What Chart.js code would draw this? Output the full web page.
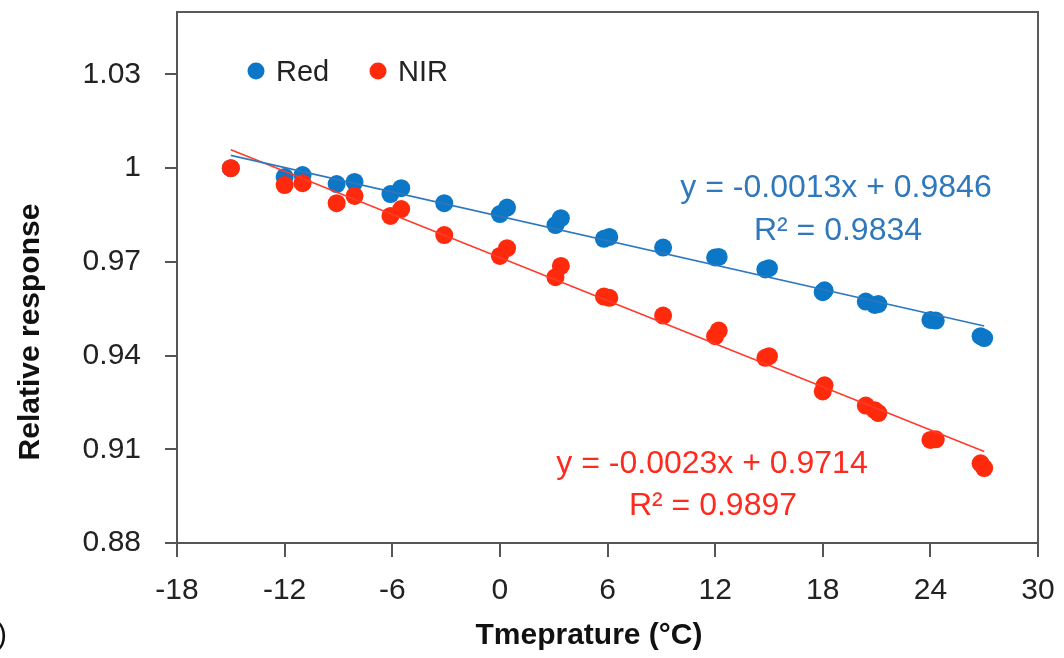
<!DOCTYPE html>
<html>
<head>
<meta charset="utf-8">
<style>
  html, body { margin: 0; padding: 0; background: #ffffff; }
  #wrap { width: 1064px; height: 658px; position: relative; }
</style>
<script src="https://cdn.jsdelivr.net/npm/chart.js@4.4.1/dist/chart.umd.min.js"></script>
</head>
<body>
<div id="wrap"><canvas id="c" width="1064" height="658"></canvas></div>
<script>
// ---- data ----
const temperatures = [-15, -12, -11, -9.1, -8.1, -6.1, -5.5, -3.1, 0, 0.4, 3.1, 3.4, 5.8, 6.1, 9.1,
  12.0, 12.2, 14.8, 15.0, 18.0, 18.1, 20.4, 20.9, 21.1, 24.0, 24.3, 26.8, 27.0];
const redBand = [1.0, 0.9972, 0.9978, 0.9949, 0.9956, 0.9917, 0.9936, 0.9888, 0.9853, 0.9874, 0.9818, 0.9840,
  0.9774, 0.9780, 0.9746, 0.9714, 0.9716, 0.9676, 0.9680, 0.9603, 0.9609, 0.9573, 0.9562, 0.9565,
  0.9514, 0.9512, 0.9462, 0.9456];
const nirBand = [1.0, 0.9946, 0.9952, 0.9888, 0.9911, 0.9847, 0.9869, 0.9786, 0.9719, 0.9744, 0.9651, 0.9687,
  0.9589, 0.9585, 0.9528, 0.9462, 0.9480, 0.9393, 0.9398, 0.9285, 0.9305, 0.9240, 0.9225, 0.9216,
  0.9130, 0.9132, 0.9055, 0.9040];
const trendX = [-15, 27];
const redTrend = [1.0041, 0.9495];
const nirTrend = [1.0059, 0.9093];
const seriesNames = ['Red', 'NIR'];
const redEquation = ['y = -0.0013x + 0.9846', 'R² = 0.9834'];
const nirEquation = ['y = -0.0023x + 0.9714', 'R² = 0.9897'];
const xTicks = [-18, -12, -6, 0, 6, 12, 18, 24, 30];
const yTicks = [0.88, 0.91, 0.94, 0.97, 1.0, 1.03];
const xTitle = 'Tmeprature (°C)';
const yTitle = 'Relative response';

const BLUE = '#0B77C6';
const RED = '#FF2A0C';
const BLUE_TXT = '#2F78BC';
const RED_TXT = '#FF2A1E';
const FONT = "'Liberation Sans', Arial, sans-serif";

const toPts = (xs, ys) => xs.map((x, i) => ({ x: x, y: ys[i] }));

const overlay = {
  id: 'overlay',
  afterDraw(chart) {
    const ctx = chart.ctx;
    const a = chart.chartArea;
    ctx.save();
    // box top & right
    ctx.strokeStyle = '#5a5a5a';
    ctx.lineWidth = 2;
    ctx.beginPath();
    ctx.moveTo(a.left, a.top);
    ctx.lineTo(a.right, a.top);
    ctx.lineTo(a.right, a.bottom);
    ctx.stroke();

    // legend
    ctx.font = '29px ' + FONT;
    ctx.textBaseline = 'middle';
    ctx.textAlign = 'left';
    const legendItems = [
      { name: seriesNames[0], color: BLUE, x: 256 },
      { name: seriesNames[1], color: RED, x: 378 }
    ];
    legendItems.forEach(it => {
      ctx.fillStyle = it.color;
      ctx.beginPath();
      ctx.arc(it.x, 71, 8.5, 0, Math.PI * 2);
      ctx.fill();
      ctx.fillStyle = '#222222';
      ctx.fillText(it.name, it.x + 20, 73);
    });

    // equations
    ctx.font = '32px ' + FONT;
    ctx.textAlign = 'center';
    ctx.fillStyle = BLUE_TXT;
    ctx.fillText(redEquation[0], 836, 188);
    ctx.fillText(redEquation[1], 838, 231);
    ctx.fillStyle = RED_TXT;
    ctx.fillText(nirEquation[0], 712, 464);
    ctx.fillText(nirEquation[1], 713, 506);

    // axis titles
    ctx.fillStyle = '#111111';
    ctx.font = 'bold 30px ' + FONT;
    ctx.textAlign = 'center';
    ctx.fillText(xTitle, 589, 636);
    ctx.save();
    ctx.translate(31, 332);
    ctx.rotate(-Math.PI / 2);
    ctx.fillText(yTitle, 0, 0);
    ctx.restore();

    // clipped panel label
    ctx.font = '30px ' + FONT;
    ctx.textAlign = 'right';
    ctx.fillStyle = '#111111';
    ctx.fillText('b)', 7, 636);
    ctx.restore();
  }
};

new Chart(document.getElementById('c'), {
  type: 'scatter',
  data: {
    datasets: [
      {
        label: seriesNames[0] + ' trend',
        data: toPts(trendX, redTrend),
        showLine: true, borderColor: '#2E78C0', borderWidth: 1.6,
        pointRadius: 0, fill: false, order: 0
      },
      {
        label: seriesNames[1] + ' trend',
        data: toPts(trendX, nirTrend),
        showLine: true, borderColor: '#FF3A2A', borderWidth: 1.4,
        pointRadius: 0, fill: false, order: 1
      },
      {
        label: seriesNames[1],
        data: toPts(temperatures, nirBand),
        backgroundColor: RED, borderColor: RED, borderWidth: 0,
        pointRadius: 9, order: 2
      },
      {
        label: seriesNames[0],
        data: toPts(temperatures, redBand),
        backgroundColor: BLUE, borderColor: BLUE, borderWidth: 0,
        pointRadius: 9, order: 3
      }
    ]
  },
  options: {
    responsive: false,
    animation: false,
    devicePixelRatio: 1,
    layout: { padding: { left: 0, top: 12, right: 26, bottom: 0 } },
    plugins: { legend: { display: false }, tooltip: { enabled: false } },
    scales: {
      x: {
        type: 'linear', min: -18, max: 30,
        afterFit(s) { s.height = 115; s.paddingLeft = 0; s.paddingRight = 0; },
        afterBuildTicks(s) { s.ticks = xTicks.map(v => ({ value: v })); },
        grid: { display: true, drawOnChartArea: false, drawTicks: true, tickLength: 14, color: '#555555', lineWidth: 2 },
        border: { display: true, color: '#555555', width: 2 },
        ticks: { font: { family: FONT, size: 30 }, color: '#222222', padding: 16, maxRotation: 0,
          callback: v => String(v) }
      },
      y: {
        type: 'linear', min: 0.88, max: 1.05,
        afterFit(s) { s.width = 177; s.paddingTop = 0; s.paddingBottom = 0; },
        afterBuildTicks(s) { s.ticks = yTicks.map(v => ({ value: v })); },
        grid: { display: true, drawOnChartArea: false, drawTicks: true, tickLength: 12, color: '#555555', lineWidth: 2 },
        border: { display: true, color: '#555555', width: 2 },
        ticks: { font: { family: FONT, size: 30 }, color: '#222222', padding: 24,
          callback: v => String(+v.toFixed(2)) }
      }
    }
  },
  plugins: [overlay]
});
</script>
</body>
</html>
